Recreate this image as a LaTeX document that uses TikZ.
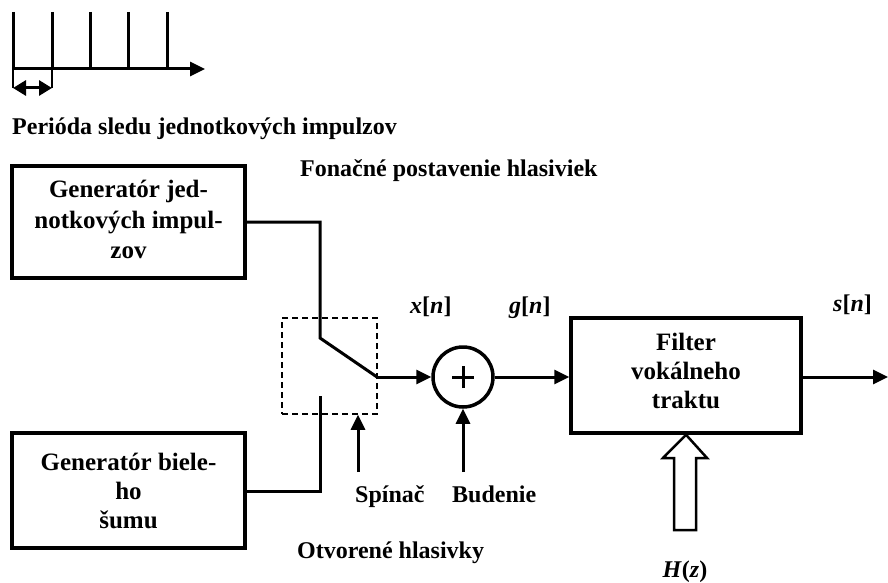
\documentclass[tikz,border=0pt]{standalone}
\usepackage{fontspec}
\setmainfont{Liberation Serif}
\usetikzlibrary{arrows.meta}
\begin{document}
\begin{tikzpicture}[x=1pt,y=-1pt,
  txt/.style={font=\fontsize{24}{29}\selectfont\bfseries, inner sep=0pt},
  boxtxt/.style={font=\fontsize{25}{29}\selectfont\bfseries, align=center},
  blk/.style={draw, line width=3.5pt, inner sep=0pt},
  wire/.style={line width=3pt},
  arr/.style={wire, -{Triangle[length=15pt,width=14pt]}},
  dbl/.style={wire, {Triangle[length=13pt,width=15pt]}-{Triangle[length=13pt,width=15pt]}},
  sw/.style={draw, dashed, line width=1.5pt, dash pattern=on 6pt off 4pt, inner sep=0pt}]
\useasboundingbox (0,0) rectangle (888,583);

% pulse train
\coordinate (p1t) at (13,12);  \coordinate (p1b) at (13,69);
\coordinate (p2t) at (52,12);  \coordinate (p2b) at (52,69);
\coordinate (p3t) at (90,12);  \coordinate (p3b) at (90,69);
\coordinate (p4t) at (128,12); \coordinate (p4b) at (128,69);
\coordinate (p5t) at (167,12); \coordinate (p5b) at (167,69);
\coordinate (axe) at (205,69);
\coordinate (br1) at (13,88);
\coordinate (br2) at (52,88);
\draw[wire] (p1t) -- (p1b); \draw[wire] (p2t) -- (p2b);
\draw[wire] (p3t) -- (p3b); \draw[wire] (p4t) -- (p4b);
\draw[wire] (p5t) -- (p5b);
\draw[arr] (p1b) -- (axe);
\draw[line width=2pt] (p1b) -- (br1);
\draw[line width=2pt] (p2b) -- (br2);
\draw[dbl] (br1) -- (br2);
\node[txt, anchor=base west] (per) at (12,135) {Perióda sledu jednotkových impulzov};

% blocks
\node[blk, minimum width=233pt, minimum height=112pt] (gen1) at (128.5,222) {};
\node[boxtxt, font=\fontsize{25}{30.5}\selectfont\bfseries] (gen1t) at ([yshift=2.5pt]gen1.center) {Generatór jed-\\notkových impul-\\zov};
\node[blk, minimum width=233pt, minimum height=115pt] (gen2) at (128.5,490.5) {};
\node[boxtxt] (gen2t) at (gen2) {Generatór biele-\\ho\\šumu};
\node[blk, minimum width=230pt, minimum height=115pt] (filt) at (686,375.5) {};
\node[boxtxt] (filtt) at ([yshift=5pt]filt.center) {Filter\\vokálneho\\traktu};
\node[draw, circle, line width=3.5pt, minimum size=60pt, inner sep=0pt] (sum) at (463,377) {};
\draw[line width=3pt] ([xshift=-11pt]sum.center) -- ([xshift=11pt]sum.center)
  ([yshift=-11pt]sum.center) -- ([yshift=11pt]sum.center);
\node[sw, minimum width=95pt, minimum height=96pt] (swb) at (329.5,366) {};

% switch wiring
\coordinate (s1) at (320,222);
\coordinate (s2) at (320,338);
\coordinate (s3) at (377,377);
\coordinate (s4) at (320,396);
\coordinate (s5) at (320,491);
\draw[wire] (gen1.east |- s1) -- (s1) -- (s2) -- (s3);
\draw[wire] (gen2.east |- s5) -- (s5) -- (s4);
\draw[arr] (s3) -- (sum.west);
\draw[arr] (sum.east) -- (filt.west |- sum.east);
\coordinate (outp) at (888,377);
\draw[arr] (filt.east |- outp) -- (outp);

% control arrows
\coordinate (spb) at (358,472);
\coordinate (bub) at (463,472);
\draw[arr] (spb) -- (swb.south -| spb);
\draw[arr] (bub) -- (sum.south);

% hollow arrow
\draw[line width=2.5pt, line join=miter] (filt.south) -- (707,458) -- (696,458) -- (696,530)
  -- (674,530) -- (674,458) -- (663,458) -- cycle;

% labels
\node[txt, anchor=base west] (fon) at (300,176) {Fonačné postavenie hlasiviek};
\node[txt, anchor=base west] (xn) at (410,313) {\textit{x}[\textit{n}]};
\node[txt, anchor=base west] (gn) at (509,313) {\textit{g}[\textit{n}]};
\node[txt, anchor=base west] (sn) at (833,311) {\textit{s}[\textit{n}]};
\node[txt, anchor=base west] (spin) at (355,502) {Spínač};
\node[txt, anchor=base west] (bud) at (452,502) {Budenie};
\node[txt, anchor=base west] (otv) at (297,558) {Otvorené hlasivky};
\node[txt, anchor=base] (hz) at (685,577) {\textit{H}(\textit{z})};
\end{tikzpicture}
\end{document}
